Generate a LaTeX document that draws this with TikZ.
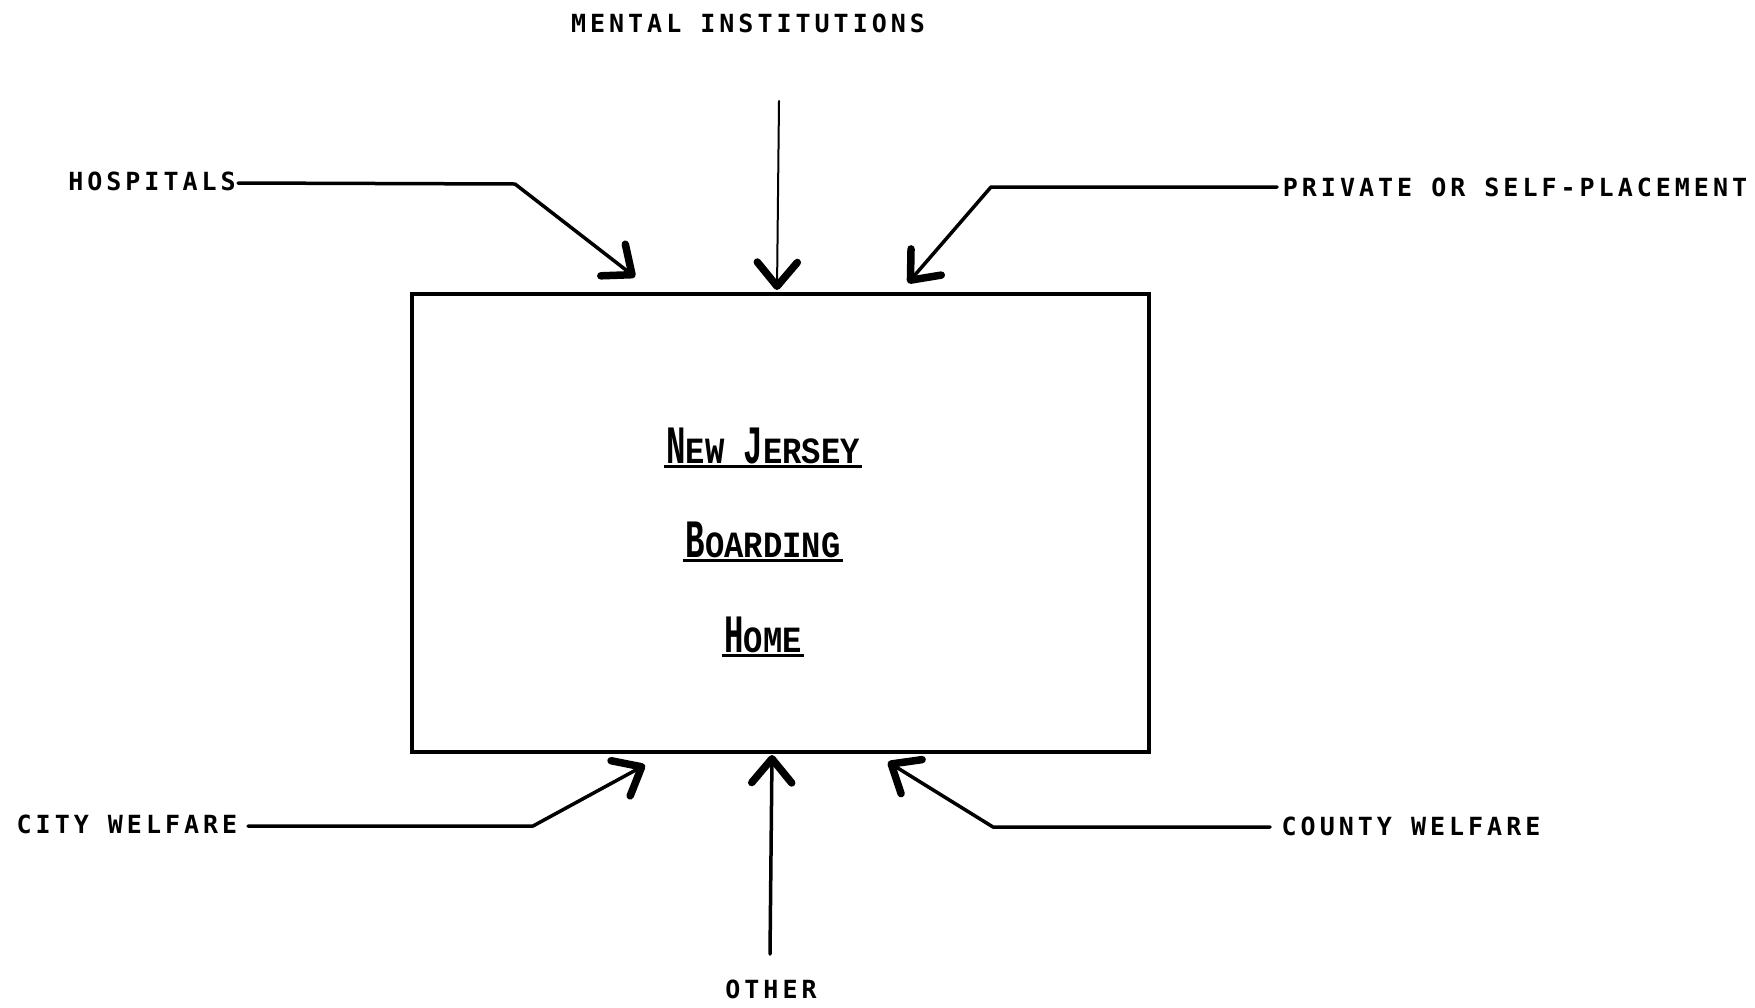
\documentclass[tikz,border=0pt]{standalone}
\usepackage{fontspec}
\usepackage{graphicx}
\usetikzlibrary{arrows.meta}
\newfontfamily\labfont{DejaVu Sans Mono}[LetterSpace=16]
\newfontfamily\boxfont{Liberation Mono}[BoldFont={Liberation Mono Bold}]
\newcommand\bigch[1]{\scalebox{0.6}[1]{\fontsize{54}{54}\selectfont\bfseries #1}}
\newcommand\smch[1]{\scalebox{0.87}[1]{\fontsize{37}{37}\selectfont\bfseries #1}}
\tikzset{
  lab/.style={font=\labfont\bfseries\fontsize{25}{30}\selectfont, inner sep=0pt},
  boxtxt/.style={font=\boxfont, inner sep=0pt, anchor=base},
  conn/.style={line width=3.5pt, line cap=round, line join=round},
  tipped/.style={conn, -{Straight Barb[length=24pt,width=40pt,line width=7.5pt 0,round]}},
  uline/.style={line width=2.5pt},
}
\begin{document}
\begin{tikzpicture}[x=1pt,y=-1pt]
\useasboundingbox[fill=white] (0,0) rectangle (1755,1007);
% central box
\node[draw, line width=4.5pt, minimum width=737pt, minimum height=458pt, inner sep=0pt] (box) at (780.5,523) {};
% box text
\node[boxtxt] (nj) at (763,463) {\bigch{N}\smch{EW}\smch{ }\bigch{J}\smch{ERSEY}};
\node[boxtxt] (bd) at (763,557) {\bigch{B}\smch{OARDING}};
\node[boxtxt] (hm) at (763,652) {\bigch{H}\smch{OME}};
\foreach \n in {nj,bd,hm}{
  \draw[uline] ([shift={(-2pt,-3.5pt)}]\n.base west) -- ([shift={(2pt,-3.5pt)}]\n.base east);
}
% labels
\node[lab] (mental) at (748,23) {MENTAL INSTITUTIONS};
\node[lab] (hosp) at (152,181) {HOSPITALS};
\node[lab] (priv) at (1515,187) {PRIVATE OR SELF-PLACEMENT};
\node[lab] (city) at (127,824) {CITY WELFARE};
\node[lab] (county) at (1411,826) {COUNTY WELFARE};
\node[lab] (other) at (771,989) {OTHER};
% arrow tips on the box
\coordinate (tMental) at (777,290);
\coordinate (tHosp) at (635,277);
\coordinate (tPriv) at (908,283);
\coordinate (tCity) at (645,765);
\coordinate (tOther) at (772,755);
\coordinate (tCounty) at (888,762);
% start points
\coordinate (sMental) at (779,101);
\coordinate (sHosp) at (238,183);
\coordinate (sPriv) at (1277,187);
\coordinate (sCity) at (248,826);
\coordinate (sCounty) at (1270,827);
\coordinate (sOther) at (770,954);
% connectors
\draw[tipped, line width=2pt] (sMental) -- (tMental);
\draw[tipped] (sHosp) -- (515,184) -- (tHosp);
\draw[tipped] (sPriv) -- (991,187) -- (tPriv);
\draw[tipped] (sCity) -- (533,826) -- (tCity);
\draw[tipped] (sCounty) -- (993,827) -- (tCounty);
\draw[tipped] (sOther) -- (tOther);
\end{tikzpicture}
\end{document}
